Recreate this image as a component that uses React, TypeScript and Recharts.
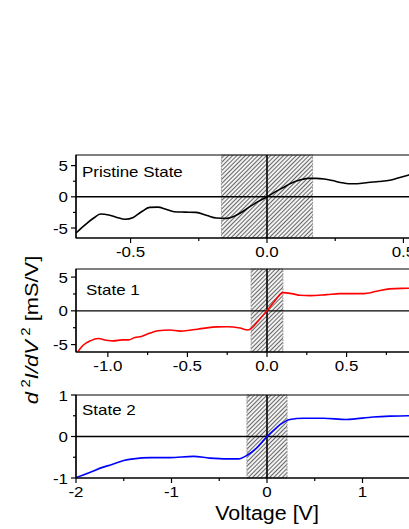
import React from 'react';
import { LineChart, Line, XAxis, YAxis, ReferenceArea, ReferenceLine } from 'recharts';

const FONT = '"Liberation Sans", Arial, Helvetica, sans-serif';
const SX = 1.13;

// Pristine State (voltage [V], d2I/dV2 [mS/V])
const pristineV = [-0.70, -0.67, -0.635, -0.61, -0.58, -0.55, -0.52, -0.49, -0.46, -0.43, -0.40, -0.37, -0.34, -0.30, -0.26, -0.22, -0.185, -0.15, -0.12, -0.09, -0.06, -0.03, 0, 0.03, 0.06, 0.09, 0.12, 0.15, 0.18, 0.21, 0.24, 0.27, 0.30, 0.33, 0.37, 0.41, 0.45, 0.48, 0.52, 0.56, 0.60, 0.65, 0.70];
const pristineG = [-5.8, -4.6, -3.4, -2.75, -2.9, -3.3, -3.6, -3.3, -2.4, -1.7, -1.65, -2.0, -2.4, -2.45, -2.5, -3.0, -3.4, -3.45, -3.1, -2.4, -1.5, -0.7, 0, 0.8, 1.5, 2.2, 2.7, 2.95, 2.95, 2.85, 2.6, 2.3, 2.1, 2.1, 2.3, 2.45, 2.65, 3.0, 3.5, 3.9, 4.2, 4.4, 4.6];

// State 1
const state1V = [-1.19, -1.155, -1.11, -1.06, -1.01, -0.965, -0.91, -0.87, -0.83, -0.79, -0.735, -0.685, -0.61, -0.545, -0.485, -0.40, -0.316, -0.25, -0.17, -0.12, -0.09, -0.045, 0, 0.06, 0.10, 0.155, 0.21, 0.27, 0.375, 0.46, 0.60, 0.69, 0.77, 0.89, 1.0, 1.1, 1.2];
const state1G = [-6.1, -5.1, -4.45, -4.1, -4.35, -4.45, -4.3, -4.3, -3.95, -3.8, -3.3, -2.95, -2.85, -3.0, -2.87, -2.6, -2.38, -2.35, -2.55, -2.85, -2.4, -1.2, 0, 1.8, 2.7, 2.55, 2.3, 2.25, 2.4, 2.55, 2.55, 2.9, 3.25, 3.35, 3.45, 3.55, 3.7];

// State 2
const state2V = [-2.0, -1.85, -1.73, -1.63, -1.5, -1.4, -1.22, -1.02, -0.77, -0.6, -0.42, -0.3, -0.2, -0.11, 0, 0.07, 0.14, 0.24, 0.38, 0.59, 0.83, 1.11, 1.29, 1.48, 1.7, 2.0];
const state2G = [-0.99, -0.86, -0.75, -0.68, -0.58, -0.54, -0.51, -0.51, -0.48, -0.52, -0.54, -0.54, -0.44, -0.28, 0, 0.15, 0.29, 0.41, 0.44, 0.44, 0.41, 0.47, 0.49, 0.5, 0.52, 0.55];

const pristineXTicks = [-0.5, -0.25, 0, 0.25, 0.5];
const state1XTicks = [-1.0, -0.75, -0.5, -0.25, 0, 0.25, 0.5, 0.75, 1.0];
const state2XTicks = [-2, -1.5, -1, -0.5, 0, 0.5, 1, 1.5, 2];
const mS_YTicks = [-5, -2.5, 0, 2.5, 5];
const state2YTicks = [-1, -0.5, 0, 0.5, 1];

const titles = ['Pristine State', 'State 1', 'State 2'];
const xTitle = 'Voltage [V]';

const toData = (v: number[], g: number[]) => v.map((x, i) => ({ v: x, g: g[i] }));

const isMajor = (v: number, step: number) => Math.abs(v / step - Math.round(v / step)) < 1e-6;

const makeXTick = (step: number, digits: number) => (props: any) => {
  const { x, y, payload } = props;
  const v = payload.value;
  const maj = isMajor(v, step);
  return (
    <g>
      <line x1={x} x2={x} y1={y} y2={y + (maj ? 5 : 3)} stroke="#000" strokeWidth={1.2} />
      {maj && (
        <text transform={`translate(${x},${y + 19}) scale(${SX},1)`} textAnchor="middle" fontSize={15} fontFamily={FONT} fill="#000">
          {v.toFixed(digits)}
        </text>
      )}
    </g>
  );
};

const makeYTick = (step: number) => (props: any) => {
  const { x, y, payload } = props;
  const v = payload.value;
  const maj = isMajor(v, step);
  return (
    <g>
      <line x1={x} x2={x - (maj ? 5 : 3)} y1={y} y2={y} stroke="#000" strokeWidth={1.2} />
      {maj && (
        <text transform={`translate(${x - 8},${y + 5.5}) scale(${SX},1)`} textAnchor="end" fontSize={15} fontFamily={FONT} fill="#000">
          {String(v)}
        </text>
      )}
    </g>
  );
};

type PanelProps = {
  data: { v: number; g: number }[];
  color: string;
  xDomain: [number, number];
  yDomain: [number, number];
  xTicks: number[];
  xStep: number;
  xDigits: number;
  yTicks: number[];
  yStep: number;
  band: number;
  title: string;
  titleDx: number;
  titleDy: number;
  top: number;
  xAxisHeight: number;
  yLabel?: boolean;
  xLabel?: boolean;
};

const Panel = (p: PanelProps) => {
  const plotH = 83;
  const marginTop = 15;
  const height = marginTop + plotH + p.xAxisHeight;
  return (
    <div style={{ position: 'absolute', left: 0, top: p.top }}>
      <LineChart width={470} height={height} data={p.data} margin={{ top: marginTop, right: 12, left: 16, bottom: 0 }}>
        <XAxis
          dataKey="v"
          type="number"
          domain={p.xDomain}
          allowDataOverflow
          ticks={p.xTicks}
          interval={0}
          tickSize={0}
          tickMargin={0}
          tickLine={false}
          axisLine={{ stroke: '#000', strokeWidth: 1.2 }}
          tick={makeXTick(p.xStep, p.xDigits)}
          height={p.xAxisHeight}
          label={
            p.xLabel
              ? (lp: any) => (
                  <text transform={`translate(267,140) scale(1.1,1)`} textAnchor="middle" fontSize={19.5} fontFamily={FONT} fill="#000">
                    {xTitle}
                  </text>
                )
              : undefined
          }
        />
        <YAxis
          type="number"
          domain={p.yDomain}
          allowDataOverflow
          ticks={p.yTicks}
          interval={0}
          tickSize={0}
          tickMargin={0}
          tickLine={false}
          axisLine={{ stroke: '#000', strokeWidth: 1.2 }}
          tick={makeYTick(p.yStep)}
          width={60}
          label={
            p.yLabel
              ? (lp: any) => (
                  <text transform={`translate(38,76) rotate(-90) scale(1.15,1)`} textAnchor="middle" fontSize={19} fontFamily={FONT} fill="#000">
                    <tspan fontStyle="italic">d</tspan>
                    <tspan fontSize={13} dx={4} dy={-8}>2</tspan>
                    <tspan fontStyle="italic" dy={8}>I/dV</tspan>
                    <tspan fontSize={13} dx={4} dy={-8}>2</tspan>
                    <tspan dy={8}> [mS/V]</tspan>
                  </text>
                )
              : undefined
          }
        />
        <ReferenceArea
          x1={-p.band}
          x2={p.band}
          y1={p.yDomain[0]}
          y2={p.yDomain[1]}
          fill="url(#hatch)"
          fillOpacity={1}
          stroke="#999"
          strokeWidth={1}
          strokeDasharray="2 1"
          ifOverflow="extendDomain"
        />
        <ReferenceLine x={0} stroke="#000" strokeWidth={1.6} />
        <ReferenceLine y={0} stroke="#000" strokeWidth={1.4} />
        <Line type="monotone" dataKey="g" stroke={p.color} strokeWidth={1.6} dot={false} isAnimationActive={false} />
        <ReferenceArea
          x1={p.xDomain[0]}
          x2={p.xDomain[1]}
          y1={p.yDomain[0]}
          y2={p.yDomain[1]}
          fill="none"
          fillOpacity={0}
          stroke="#000"
          strokeWidth={1.2}
          label={(lp: any) => {
            const vb = lp.viewBox || { x: 76, y: marginTop };
            return (
              <text transform={`translate(${vb.x + p.titleDx},${vb.y + p.titleDy}) scale(${SX},1)`} fontSize={15} fontFamily={FONT} fill="#000">
                {p.title}
              </text>
            );
          }}
        />
      </LineChart>
    </div>
  );
};

export default function App() {
  return (
    <div style={{ position: 'fixed', left: 0, top: 0, width: 409, height: 529, overflow: 'hidden', background: '#fff' }}>
      <style>{'.recharts-surface{overflow:visible}'}</style>
      <svg width={0} height={0} style={{ position: 'absolute' }}>
        <defs>
          <pattern id="hatch" patternUnits="userSpaceOnUse" width={3} height={3} patternTransform="rotate(45)">
            <rect x={0} y={0} width={3} height={3} fill="#f2f2f2" />
            <line x1={1.5} y1={0} x2={1.5} y2={3} stroke="#3a3a3a" strokeWidth={0.75} />
          </pattern>
        </defs>
      </svg>
      <Panel
        data={toData(pristineV, pristineG)}
        color="#000000"
        xDomain={[-0.7, 0.7]}
        yDomain={[-6.6, 6.7]}
        xTicks={pristineXTicks}
        xStep={0.5}
        xDigits={1}
        yTicks={mS_YTicks}
        yStep={5}
        band={0.167}
        title={titles[0]}
        titleDx={6}
        titleDy={22}
        top={140}
        xAxisHeight={30}
      />
      <Panel
        data={toData(state1V, state1G)}
        color="#ff0000"
        xDomain={[-1.2, 1.2]}
        yDomain={[-6.1, 6.2]}
        xTicks={state1XTicks}
        xStep={0.5}
        xDigits={1}
        yTicks={mS_YTicks}
        yStep={5}
        band={0.1}
        title={titles[1]}
        titleDx={10}
        titleDy={26}
        top={254}
        xAxisHeight={30}
        yLabel
      />
      <Panel
        data={toData(state2V, state2G)}
        color="#0000ff"
        xDomain={[-2, 2]}
        yDomain={[-1, 1]}
        xTicks={state2XTicks}
        xStep={1}
        xDigits={0}
        yTicks={state2YTicks}
        yStep={1}
        band={0.21}
        title={titles[2]}
        titleDx={6}
        titleDy={20}
        top={380}
        xAxisHeight={50}
        xLabel
      />
    </div>
  );
}
